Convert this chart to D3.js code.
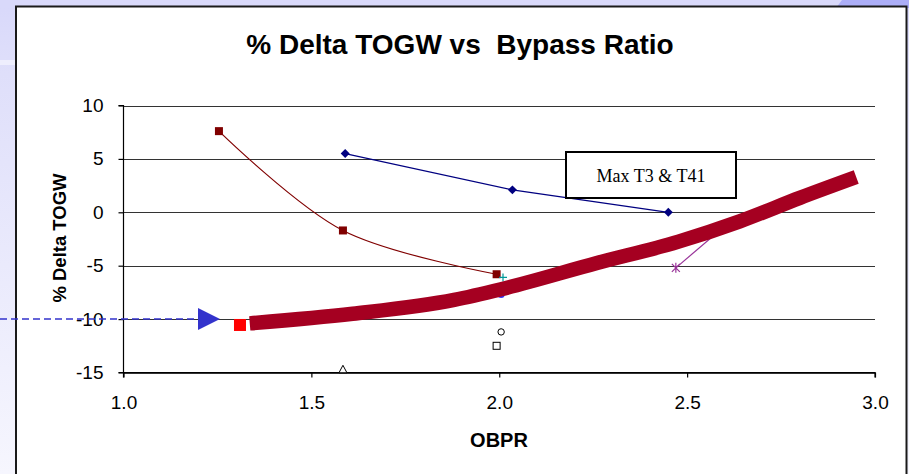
<!DOCTYPE html>
<html>
<head>
<meta charset="utf-8">
<script src="https://cdn.jsdelivr.net/npm/d3@7/dist/d3.min.js"></script>
<style>
html,body{margin:0;padding:0;background:#fff;}
svg{display:block;}
</style>
</head>
<body>
<svg id="chart" width="909" height="474"></svg>
<script>
// ---- data ----
const xTicks = [1.0, 1.5, 2.0, 2.5, 3.0];
const yTicks = [-15, -10, -5, 0, 5, 10];

const maxT3X = [1.59, 2.035, 2.45];
const maxT3Y = [5.5, 2.1, 0.0];

const redX = [1.254, 1.584, 1.993];
const redY = [7.6, -1.7, -5.8];

const purpleX = [2.47, 2.61];
const purpleY = [-5.2, -1.0];

const tealX = [2.01];
const tealY = [-6.1];
const blueX = [2.005];
const blueY = [-7.7];

const circleX = [2.005], circleY = [-11.2];
const squareX = [1.993], squareY = [-12.5];
const triX = [1.584], triY = [-14.7];

const thickX = [1.336, 1.61, 1.88, 2.005, 2.26, 2.477, 2.64, 2.80, 2.95];
const thickY = [-10.4, -9.5, -8.2, -7.2, -4.75, -2.75, -0.85, 1.35, 3.3];

const startX = [1.31], startY = [-10.55];
const arrowLevel = -10;
const boxLabel = "Max T3 & T41";

// ---- drawing ----
const FONT = "Liberation Sans, Arial, sans-serif";
const svg = d3.select("#chart");
const defs = svg.append("defs");
const lg = defs.append("linearGradient").attr("id","bgL").attr("x1",0).attr("y1",0).attr("x2",0).attr("y2",1);
lg.append("stop").attr("offset","0").attr("stop-color","#d8d8fa");
lg.append("stop").attr("offset","0.12").attr("stop-color","#dedefa");
lg.append("stop").attr("offset","1").attr("stop-color","#f6f6fe");

svg.append("rect").attr("x",0).attr("y",0).attr("width",909).attr("height",474).attr("fill","url(#bgL)");
svg.append("rect").attr("x",0).attr("y",0).attr("width",909).attr("height",8).attr("fill","#d9d9fa");
svg.append("path").attr("d","M842,0 L909,0 L909,8 L836,8 Z").attr("fill","#acaef7");
svg.append("rect").attr("x",0).attr("y",60).attr("width",16).attr("height",5).attr("fill","#eeeefd");

// white frame
svg.append("rect").attr("x",16).attr("y",6.5).attr("width",890.5).attr("height",480)
  .attr("fill","#ffffff").attr("stroke","#1a1a1a").attr("stroke-width",2);

const x = d3.scaleLinear().domain([1, 3]).range([123.5, 875]);
const y = d3.scaleLinear().domain([-15, 10]).range([372.5, 105.5]);

// title
svg.append("text").attr("x",460).attr("y",54).attr("text-anchor","middle")
  .attr("font-family",FONT).attr("font-weight","bold")
  .attr("font-size",28).style("white-space","pre")
  .text("% Delta TOGW vs  Bypass Ratio");

// gridlines
svg.append("g").selectAll("line").data(yTicks).join("line")
  .attr("x1", x(1)).attr("x2", x(3))
  .attr("y1", d => Math.round(y(d)) + 0.5).attr("y2", d => Math.round(y(d)) + 0.5)
  .attr("stroke","#333").attr("stroke-width",1.2);

// axes
const yAxis = d3.axisLeft(y).tickValues(yTicks).tickSize(5).tickPadding(15).tickFormat(d => String(d));
const gy = svg.append("g").attr("transform",`translate(${x(1)},0)`).call(yAxis);
const xAxis = d3.axisBottom(x).tickValues(xTicks).tickSize(5).tickPadding(18).tickFormat(d => d.toFixed(1));
const gx = svg.append("g").attr("transform",`translate(0,${y(-15)})`).call(xAxis);
[gx, gy].forEach(g => {
  g.attr("font-size", 19).attr("font-family", FONT);
  g.select(".domain").attr("stroke","#000").attr("stroke-width",1.2);
  g.selectAll(".tick line").attr("stroke","#000").attr("stroke-width",1.2);
  g.selectAll(".tick text").attr("fill","#000");
});
gy.select(".domain").attr("d", `M-5,${y(10)}H0V${y(-15)}H-5`);
gx.select(".domain").attr("d", `M${x(1)},5V0H${x(3)}V5`);

// axis titles
svg.append("text").attr("transform",`translate(66,238) rotate(-90)`).attr("text-anchor","middle")
  .attr("font-family",FONT).attr("font-weight","bold").attr("font-size",18.5)
  .text("% Delta TOGW");
svg.append("text").attr("x",499).attr("y",447).attr("text-anchor","middle")
  .attr("font-family",FONT).attr("font-weight","bold").attr("font-size",20)
  .text("OBPR");

const zip = (a,b) => a.map((v,i)=>[v,b[i]]);

// hollow markers
svg.append("g").selectAll("circle").data(zip(circleX,circleY)).join("circle")
  .attr("cx",d=>x(d[0])).attr("cy",d=>y(d[1])).attr("r",3.2)
  .attr("fill","#fff").attr("stroke","#000").attr("stroke-width",1);
svg.append("g").selectAll("rect").data(zip(squareX,squareY)).join("rect")
  .attr("x",d=>x(d[0])-3.5).attr("y",d=>y(d[1])-3.5).attr("width",7).attr("height",7)
  .attr("fill","#fff").attr("stroke","#000").attr("stroke-width",1);
svg.append("g").selectAll("path").data(zip(triX,triY)).join("path")
  .attr("transform",d=>`translate(${x(d[0])},${y(d[1])})`)
  .attr("d","M0,-4L4,3.5L-4,3.5Z").attr("fill","#fff").attr("stroke","#000").attr("stroke-width",1);

// blue Max T3 line
const line = d3.line().x(d=>x(d[0])).y(d=>y(d[1]));
const maxT3 = zip(maxT3X, maxT3Y);
svg.append("path").datum(maxT3).attr("d",line).attr("fill","none").attr("stroke","#000080").attr("stroke-width",1.2);
svg.append("g").selectAll("path").data(maxT3).join("path")
  .attr("transform",d=>`translate(${x(d[0])},${y(d[1])}) rotate(45)`)
  .attr("d",d3.symbol(d3.symbolSquare, 40)()).attr("fill","#000080");

// dark red smoothed line
const red = zip(redX, redY);
svg.append("path").datum(red).attr("d", d3.line().x(d=>x(d[0])).y(d=>y(d[1])).curve(d3.curveCardinal.tension(0)))
  .attr("fill","none").attr("stroke","#800000").attr("stroke-width",1.2);
svg.append("g").selectAll("rect").data(red).join("rect")
  .attr("x",d=>x(d[0])-4).attr("y",d=>y(d[1])-4).attr("width",8).attr("height",8).attr("fill","#800000");

// teal and blue hidden markers
svg.append("g").selectAll("path").data(zip(tealX,tealY)).join("path")
  .attr("transform",d=>`translate(${x(d[0])},${y(d[1])})`)
  .attr("d","M-4,0H4M0,-4V4").attr("stroke","#009999").attr("stroke-width",1.2);
svg.append("g").selectAll("circle").data(zip(blueX,blueY)).join("circle")
  .attr("cx",d=>x(d[0])).attr("cy",d=>y(d[1])).attr("r",3.5).attr("fill","#3333ff");

// purple line with asterisk
const purple = zip(purpleX, purpleY);
svg.append("path").datum(purple).attr("d",line).attr("fill","none").attr("stroke","#993399").attr("stroke-width",1.2);
svg.append("g").selectAll("path").data(purple.slice(0,1)).join("path")
  .attr("transform",d=>`translate(${x(d[0])},${y(d[1])})`)
  .attr("d","M-4,-4L4,4M-4,4L4,-4M0,-5V5").attr("stroke","#993399").attr("stroke-width",1.2);

// red start marker
svg.append("g").selectAll("rect").data(zip(startX,startY)).join("rect")
  .attr("x",d=>x(d[0])-6).attr("y",d=>y(d[1])-6).attr("width",12).attr("height",12).attr("fill","#ff0000");

// thick line
const thick = zip(thickX, thickY);
svg.append("path").datum(thick).attr("d", d3.line().x(d=>x(d[0])).y(d=>y(d[1])).curve(d3.curveMonotoneX))
  .attr("fill","none").attr("stroke","#a50021").attr("stroke-width",14.5).attr("stroke-linecap","butt");

// dashed arrow
svg.append("line").attr("x1",0).attr("x2",199).attr("y1",y(arrowLevel)).attr("y2",y(arrowLevel))
  .attr("stroke","#3333cc").attr("stroke-width",1.5).attr("stroke-dasharray","7,4");
svg.append("path").attr("transform",`translate(198,${y(arrowLevel)})`)
  .attr("d","M0,-11L22,0L0,11Z").attr("fill","#3333cc");

// label box
svg.append("rect").attr("x",566).attr("y",152).attr("width",170).attr("height",46)
  .attr("fill","#fff").attr("stroke","#000").attr("stroke-width",2);
svg.append("text").attr("x",651).attr("y",182).attr("text-anchor","middle")
  .attr("font-family","Liberation Serif, Times New Roman, serif").attr("font-size",18)
  .text(boxLabel);
</script>
</body>
</html>
